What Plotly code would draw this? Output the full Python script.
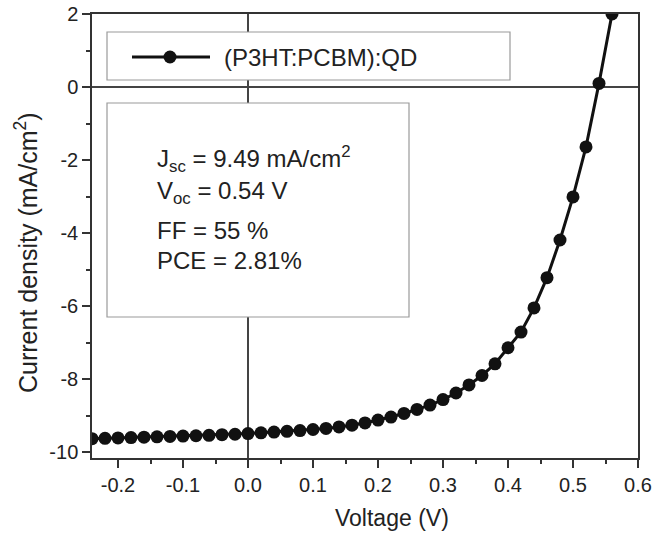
import plotly.graph_objects as go

voltage = [-0.24, -0.22, -0.20, -0.18, -0.16, -0.14, -0.12, -0.10, -0.08, -0.06,
           -0.04, -0.02, 0.00, 0.02, 0.04, 0.06, 0.08, 0.10, 0.12, 0.14,
           0.16, 0.18, 0.20, 0.22, 0.24, 0.26, 0.28, 0.30, 0.32, 0.34,
           0.36, 0.38, 0.40, 0.42, 0.44, 0.46, 0.48, 0.50, 0.52, 0.54, 0.56]
current = [-9.63, -9.62, -9.61, -9.60, -9.59, -9.58, -9.57, -9.56, -9.55, -9.54,
           -9.52, -9.51, -9.49, -9.47, -9.45, -9.43, -9.41, -9.38, -9.35, -9.31,
           -9.26, -9.20, -9.12, -9.04, -8.94, -8.83, -8.71, -8.56, -8.38, -8.16,
           -7.90, -7.58, -7.14, -6.71, -6.05, -5.22, -4.19, -3.01, -1.64, 0.10, 2.00]
series_name = "(P3HT:PCBM):QD"
x_ticks = [-0.2, -0.1, 0.0, 0.1, 0.2, 0.3, 0.4, 0.5, 0.6]
x_tick_labels = ["-0.2", "-0.1", "0.0", "0.1", "0.2", "0.3", "0.4", "0.5", "0.6"]
y_ticks = [-10, -8, -6, -4, -2, 0, 2]
y_tick_labels = ["-10", "-8", "-6", "-4", "-2", "0", "2"]
info_lines = ["J<sub>sc</sub> = 9.49 mA/cm<sup>2</sup>",
              "V<sub>oc</sub> = 0.54 V",
              "FF = 55 %",
              "PCE = 2.81%"]

FONT = "Liberation Sans, Arial, sans-serif"
INK = "#222222"
AX = "#333333"
CURVE = "#111111"

fig = go.Figure()
fig.add_trace(go.Scatter(
    x=voltage, y=current, mode="lines+markers", name=series_name,
    line=dict(color=CURVE, width=3),
    marker=dict(color=CURVE, size=13, symbol="circle"),
    showlegend=False,
))

W, H = 656, 534
L, R, T, B = 92, 18, 14, 76
pw, ph = W - L - R, H - T - B

def px(x):
    return (x - L) / pw

def py(y):
    return 1 - (y - T) / ph

shapes = [
    # legend box
    dict(type="rect", xref="paper", yref="paper", x0=px(107), x1=px(510), y0=py(80), y1=py(32),
         line=dict(color="#9a9a9a", width=1.2), fillcolor="white", layer="above"),
    # legend sample: line + marker
    dict(type="line", xref="paper", yref="paper", x0=px(132), x1=px(210), y0=py(57), y1=py(57),
         line=dict(color=CURVE, width=3), layer="above"),
    dict(type="circle", xref="paper", yref="paper", x0=px(163.5), x1=px(176.5), y0=py(63.5), y1=py(50.5),
         line=dict(color=CURVE, width=0), fillcolor=CURVE, layer="above"),
    # parameters box
    dict(type="rect", xref="paper", yref="paper", x0=px(107), x1=px(409), y0=py(317), y1=py(103),
         line=dict(color="#9a9a9a", width=1.2), fillcolor="white", layer="above"),
]

annotations = [dict(text=series_name, xref="paper", yref="paper", x=px(222), y=py(57),
                    xanchor="left", yanchor="middle", showarrow=False,
                    font=dict(family=FONT, size=24, color=INK))]
line_y = [159, 192, 230, 260]
for txt, yy in zip(info_lines, line_y):
    annotations.append(dict(text=txt, xref="paper", yref="paper", x=px(155), y=py(yy),
                            xanchor="left", yanchor="middle", showarrow=False,
                            font=dict(family=FONT, size=24, color=INK)))
annotations.append(dict(text="Voltage (V)", xref="paper", yref="paper", x=px(392), y=py(518),
                        xanchor="center", yanchor="middle", showarrow=False,
                        font=dict(family=FONT, size=23, color=INK)))
annotations.append(dict(text="Current density (mA/cm<sup>2</sup>)", xref="paper", yref="paper",
                        x=px(26), y=py(253), xanchor="center", yanchor="middle", textangle=-90,
                        showarrow=False, font=dict(family=FONT, size=25, color=INK)))

fig.update_layout(
    width=W, height=H,
    margin=dict(l=L, r=R, t=T, b=B, pad=0, autoexpand=False),
    paper_bgcolor="white", plot_bgcolor="white",
    font=dict(family=FONT, color=INK, size=20),
    shapes=shapes, annotations=annotations,
    showlegend=False,
)
fig.update_xaxes(
    automargin=False,
    range=[-0.24, 0.6], tickvals=x_ticks, ticktext=x_tick_labels,
    showgrid=False, zeroline=True, zerolinecolor="#444444", zerolinewidth=1.5,
    showline=True, linecolor=AX, linewidth=1.5, mirror=True,
    ticks="outside", ticklen=8, tickwidth=1.5, tickcolor=AX,
    minor=dict(dtick=0.05, tick0=0, ticks="outside", ticklen=4, tickwidth=1.5, tickcolor=AX),
    tickfont=dict(family=FONT, size=20, color=INK),
)
fig.update_yaxes(
    automargin=False,
    range=[-10.16, 2], tickvals=y_ticks, ticktext=y_tick_labels,
    showgrid=False, zeroline=True, zerolinecolor="#444444", zerolinewidth=1.5,
    showline=True, linecolor=AX, linewidth=1.5, mirror=True,
    ticks="outside", ticklen=8, tickwidth=1.5, tickcolor=AX,
    minor=dict(dtick=1, tick0=0, ticks="outside", ticklen=4, tickwidth=1.5, tickcolor=AX),
    tickfont=dict(family=FONT, size=20, color=INK),
)

fig.write_html("out.html", config={"displayModeBar": False},
               post_script="document.body.style.margin='0';document.body.style.overflow='hidden';")
